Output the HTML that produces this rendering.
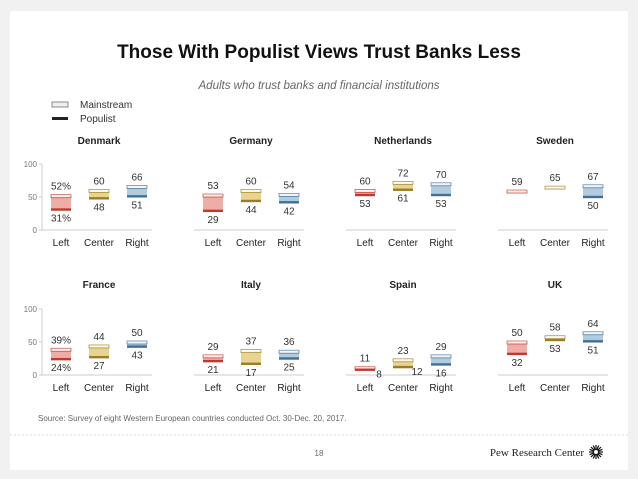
<!DOCTYPE html>
<html><head><meta charset="utf-8"><style>
body{margin:0;width:638px;height:479px;background:#f1f1f1;font-family:"Liberation Sans",sans-serif;overflow:hidden}
#card{position:absolute;left:10px;top:11px;width:618px;height:459px;background:#fff}
svg{position:absolute;left:0;top:0}
</style></head><body>
<div id="card"></div>
<svg id="chart" width="638" height="479">
<text x="319" y="58" text-anchor="middle" font-size="19" font-weight="bold" fill="#111">Those With Populist Views Trust Banks Less</text>
<text x="319" y="89" text-anchor="middle" font-size="11.5" font-style="italic" fill="#666">Adults who trust banks and financial institutions</text>
<g>
<rect x="52" y="102" width="16" height="5" fill="#eee" stroke="#888" stroke-width="1"/>
<text x="80" y="108" font-size="10" fill="#333">Mainstream</text>
<rect x="52" y="117" width="16" height="3" fill="#222"/>
<text x="80" y="122" font-size="10" fill="#333">Populist</text>
</g>
<text x="38" y="421" font-size="8" fill="#666">Source: Survey of eight Western European countries conducted Oct. 30-Dec. 20, 2017.</text>
<line x1="10" y1="435" x2="628" y2="435" stroke="#ddd" stroke-dasharray="2,2"/>
<text x="319" y="456" text-anchor="middle" font-size="8" fill="#666">18</text>
<text x="584" y="456" text-anchor="end" font-size="11" fill="#222" font-family="Liberation Serif, serif">Pew Research Center</text>
<g id="logo"></g>
<g id="panels"></g>
</svg>
<script>
const countries=["Denmark","Germany","Netherlands","Sweden","France","Italy","Spain","UK"];
const categories=["Left","Center","Right"];
const mainstream=[[52,60,66],[53,60,54],[60,72,70],[59,65,67],[39,44,50],[29,37,36],[11,23,29],[50,58,64]];
const populist=[[31,48,51],[29,44,42],[53,61,53],[null,null,50],[24,27,43],[21,17,25],[8,12,16],[32,53,51]];
const pctLabel=[true,false,false,false,true,false,false,false];
const yTicks=[0,50,100];
const fills=["#eca49d","#e6cf85","#a9c5dc"];
const darks=["#c0392b","#9c7d24","#3f6f94"];
const ns="http://www.w3.org/2000/svg";
const root=document.getElementById('panels');
function mk(t,a,p){const e=document.createElementNS(ns,t);for(const k in a)e.setAttribute(k,a[k]);(p||root).appendChild(e);return e;}
function txt(s,a,p){const e=mk('text',Object.assign({'font-size':10,fill:'#333','text-anchor':'middle'},a),p);e.textContent=s;return e;}
for(let i=0;i<countries.length;i++){
  const col=i%4,row=Math.floor(i/4);
  const x0=42+col*152, y0=row?375:230, h=66;
  const y=v=>y0-v/100*h;
  const xc=j=>x0+19+j*38;
  const g=mk('g',{});
  
  
  const t=txt(countries[i],{x:x0+57,y:row?288:144,'font-weight':'bold','font-size':10,fill:'#222'},g);
  
  
  const bl=mk('line',{x1:x0,x2:x0+110,y1:y0,y2:y0,stroke:'#ccc'},g);
  
  
  if(col===0){
    mk('line',{x1:x0,x2:x0,y1:y(100),y2:y0,stroke:'#ccc'},g);
    yTicks.forEach(v=>{
      mk('line',{x1:x0-3,x2:x0,y1:y(v),y2:y(v),stroke:'#ccc'},g);
      const tl=txt(String(v),{x:x0-5,y:y(v)+3,'text-anchor':'end','font-size':8,fill:'#777'},g);
      
      
    });
  }
  for(let j=0;j<3;j++){
    const m=mainstream[i][j]; let p=populist[i][j]; const pp=p===null?m-3:p;
    const cx=xc(j), top=y(Math.max(m,pp)), bot=y(Math.min(m,pp));
    const b=mk('rect',{x:cx-10,y:top,width:20,height:Math.max(bot-top,2),fill:fills[j],opacity:0.9},g);
    
    
    mk('rect',{x:cx-10,y:y(m)-1,width:20,height:3,fill:'#fff',stroke:darks[j],'stroke-width':0.8,opacity:0.8},g);
    if(p!==null) mk('rect',{x:cx-10,y:y(p)-1.2,width:20,height:2.4,fill:darks[j]},g);
    const ml=txt(m+(pctLabel[i]&&j===0?'%':''),{x:cx,y:y(m)-6},g);
    
    
    if(p!==null){
      let ly=y(p)+12, lx=cx;
      if(ly>y0+3){ly=y(p)+8;lx=cx+14;}
      const pl=txt(p+(pctLabel[i]&&j===0?'%':''),{x:lx,y:ly},g);
      
      
    }
    const cl=txt(categories[j],{x:cx,y:y0+16,fill:'#222'},g);
    
    
  }
}
const logo=document.getElementById('logo');
for(let a=0;a<16;a++){const r=a*Math.PI/8;mk('line',{x1:596,y1:452,x2:596+7*Math.cos(r),y2:452+7*Math.sin(r),stroke:'#111','stroke-width':1.2},logo);}
mk('circle',{cx:596,cy:452,r:2,fill:'#fff'},logo);
</script>
</body></html>
